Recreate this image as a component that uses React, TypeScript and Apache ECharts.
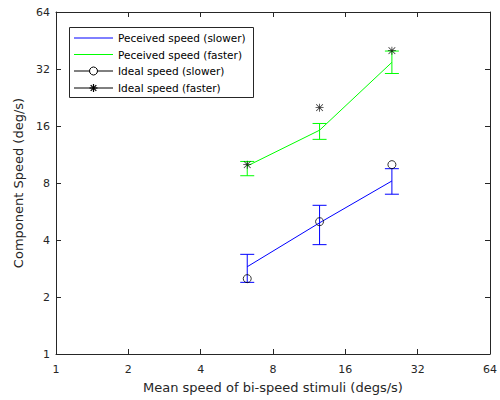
import React, { useEffect, useRef } from "react";
import * as echarts from "echarts";

const xValues = [6.25, 12.5, 25];
const perceivedSlower = [2.89, 4.93, 8.2];
const perceivedSlowerLow = [2.39, 3.78, 6.98];
const perceivedSlowerHigh = [3.36, 6.1, 9.52];
const perceivedFaster = [9.84, 15.2, 34.7];
const perceivedFasterLow = [8.74, 13.6, 30.3];
const perceivedFasterHigh = [10.4, 16.5, 39.8];
const idealSlower = [2.5, 5, 10];
const idealFaster = [10, 20, 40];
const legendLabels = [
  "Peceived speed (slower)",
  "Peceived speed (faster)",
  "Ideal speed (slower)",
  "Ideal speed (faster)",
];

const FONT = "DejaVu Sans";
const AX = "#262626";
const BLUE = "#0000ff";
const GREEN = "#00ff00";

const STAR =
  "path://M9 0L11 0L11 20L9 20ZM0 9L20 9L20 11L0 11ZM2.3 0.9L19.1 17.7L17.7 19.1L0.9 2.3ZM17.7 0.9L19.1 2.3L2.3 19.1L0.9 17.7Z";

function errorSeries(name: string, low: number[], high: number[], color: string) {
  return {
    type: "custom",
    name,
    color,
    itemStyle: { color },
    data: xValues.map((x, i) => [x, low[i], high[i]]),
    renderItem: (_params: any, api: any) => {
      const x = api.value(0);
      const lo = api.coord([x, api.value(1)]);
      const hi = api.coord([x, api.value(2)]);
      const w = 7;
      const style = { stroke: color, fill: "none", lineWidth: 1, opacity: 1 };
      return {
        type: "group",
        children: [
          { type: "line", shape: { x1: lo[0], y1: lo[1], x2: hi[0], y2: hi[1] }, style },
          { type: "line", shape: { x1: lo[0] - w, y1: lo[1], x2: lo[0] + w, y2: lo[1] }, style },
          { type: "line", shape: { x1: hi[0] - w, y1: hi[1], x2: hi[0] + w, y2: hi[1] }, style },
        ],
      };
    },
    z: 3,
  };
}

export default function App() {
  const ref = useRef<HTMLDivElement>(null);
  useEffect(() => {
    document.body.style.margin = "0";
    const chart = echarts.init(ref.current!, undefined, { renderer: "svg" });
    const axisCommon = {
      type: "log",
      logBase: 2,
      min: 1,
      max: 64,
      interval: 1,
      axisLine: { show: true, lineStyle: { color: AX, width: 1 } },
      axisTick: { show: true, inside: true, length: 5, lineStyle: { color: AX } },
      splitLine: { show: false },
      minorTick: { show: false },
    };
    const lx = 74;
    const lx2 = 113;
    const rows = [38, 54.5, 71, 88];
    const legendGraphics: any[] = [
      {
        type: "rect",
        shape: { x: 69.5, y: 27.5, width: 184, height: 70 },
        style: { fill: "#fff", stroke: AX, lineWidth: 1 },
        z: 100,
      },
    ];
    const legendColors = [BLUE, GREEN, "#000", "#000"];
    rows.forEach((y, i) => {
      legendGraphics.push({
        type: "line",
        shape: { x1: lx, y1: y, x2: lx2, y2: y },
        style: { stroke: legendColors[i], lineWidth: 1 },
        z: 101,
      });
      legendGraphics.push({
        type: "text",
        x: 118,
        y,
        style: {
          text: legendLabels[i],
          font: `10.5px "${FONT}"`,
          fill: "#000",
          textVerticalAlign: "middle",
          verticalAlign: "middle",
        },
        z: 101,
      });
    });
    legendGraphics.push({
      type: "circle",
      shape: { cx: 93.5, cy: rows[2], r: 4 },
      style: { fill: "#fff", stroke: "#000", lineWidth: 1 },
      z: 102,
    });
    const s = 4;
    const cy = rows[3];
    const cx = 93.5;
    [
      [cx - s, cy, cx + s, cy],
      [cx, cy - s, cx, cy + s],
      [cx - 2.8, cy - 2.8, cx + 2.8, cy + 2.8],
      [cx + 2.8, cy - 2.8, cx - 2.8, cy + 2.8],
    ].forEach(([x1, y1, x2, y2]) =>
      legendGraphics.push({
        type: "line",
        shape: { x1, y1, x2, y2 },
        style: { stroke: "#000", lineWidth: 1.2 },
        z: 102,
      })
    );

    chart.setOption({
      animation: false,
      backgroundColor: "#fff",
      grid: { left: 56, right: 10, top: 12, bottom: 46, containLabel: false },
      xAxis: [
        {
          ...axisCommon,
          position: "bottom",
          name: "Mean speed of bi-speed stimuli (degs/s)",
          nameLocation: "middle",
          nameGap: 27,
          nameTextStyle: { fontFamily: FONT, fontSize: 13, color: AX },
          axisLabel: { fontFamily: FONT, fontSize: 11, color: AX, margin: 10 },
        },
        {
          ...axisCommon,
          position: "top",
          axisLabel: { show: false },
        },
      ],
      yAxis: [
        {
          ...axisCommon,
          position: "left",
          name: "Component Speed (deg/s)",
          nameLocation: "middle",
          nameGap: 28,
          nameTextStyle: { fontFamily: FONT, fontSize: 13, color: AX },
          axisLabel: { fontFamily: FONT, fontSize: 11, color: AX, margin: 6 },
        },
        {
          ...axisCommon,
          position: "right",
          axisLabel: { show: false },
        },
      ],
      series: [
        {
          type: "line",
          name: legendLabels[0],
          data: xValues.map((x, i) => [x, perceivedSlower[i]]),
          showSymbol: false,
          symbol: "none",
          lineStyle: { color: BLUE, width: 1 },
          z: 3,
        },
        errorSeries("errSlower", perceivedSlowerLow, perceivedSlowerHigh, BLUE),
        {
          type: "line",
          name: legendLabels[1],
          data: xValues.map((x, i) => [x, perceivedFaster[i]]),
          showSymbol: false,
          symbol: "none",
          lineStyle: { color: GREEN, width: 1 },
          z: 3,
        },
        errorSeries("errFaster", perceivedFasterLow, perceivedFasterHigh, GREEN),
        {
          type: "scatter",
          name: legendLabels[2],
          data: xValues.map((x, i) => [x, idealSlower[i]]),
          symbol: "circle",
          symbolSize: 8,
          itemStyle: { color: "rgba(0,0,0,0)", borderColor: "#000", borderWidth: 1 },
          z: 4,
        },
        {
          type: "scatter",
          name: legendLabels[3],
          data: xValues.map((x, i) => [x, idealFaster[i]]),
          symbol: STAR,
          symbolSize: 8,
          itemStyle: { color: "#000" },
          z: 4,
        },
      ],
      graphic: legendGraphics,
    });
    return () => chart.dispose();
  }, []);
  return <div ref={ref} style={{ width: 500, height: 400 }} />;
}
